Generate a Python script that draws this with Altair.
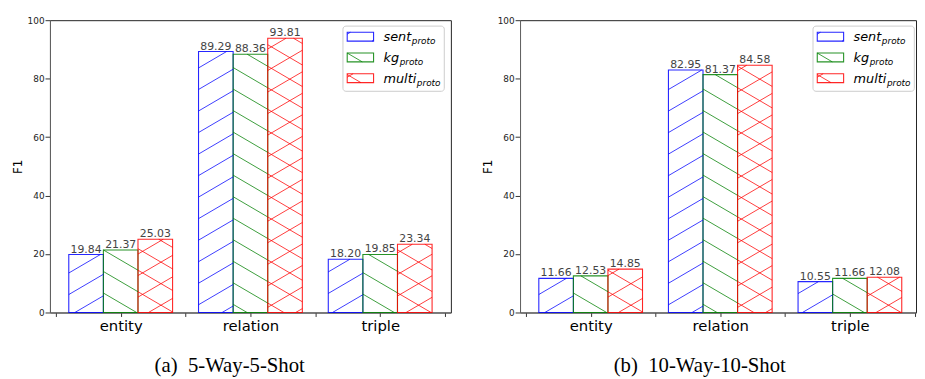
import math
import altair as alt
import pandas as pd

# ---------------- data ----------------
categories = ["entity", "relation", "triple"]
series = ["sent", "kg", "multi"]
series_sub = "proto"
colors = ["#0000ff", "#008000", "#ff0000"]
hatches = ["/", "\\", "x"]

a_sent = [19.84, 89.29, 18.20]
a_kg = [21.37, 88.36, 19.85]
a_multi = [25.03, 93.81, 23.34]

b_sent = [11.66, 82.95, 10.55]
b_kg = [12.53, 81.37, 11.66]
b_multi = [14.85, 84.58, 12.08]

caption_a = "(a)\u00a0\u00a05-Way-5-Shot"
caption_b = "(b)\u00a0\u00a010-Way-10-Shot"
y_title = "F1"
y_ticks = [0, 20, 40, 60, 80, 100]

# ---------------- layout / style ----------------
BAR_W = 0.8 / 3
PLOT_H = 296
HATCH_P_PX = 21.8      # vertical period of hatch lines, px
HATCH_SLOPE_PX = 0.585  # slope of hatch lines, px/px
PHASE_F = 1.8          # "/" phase (data units)
PHASE_B = 3.2          # "\" phase (data units)


def hatch_segments(x0, x1, y0, y1, m, P, phase, s):
    out = []
    if s > 0:
        cmin, cmax = y0 - m * x1, y1 - m * x0
    else:
        cmin, cmax = y0 + m * x0, y1 + m * x1
    k0 = math.ceil((cmin - phase) / P)
    k1 = math.floor((cmax - phase) / P)
    for k in range(k0, k1 + 1):
        c = phase + k * P
        if s > 0:
            xa = max(x0, (y0 - c) / m)
            xb = min(x1, (y1 - c) / m)
            if xb - xa > 1e-9:
                out.append((xa, c + m * xa, xb, c + m * xb))
        else:
            xa = max(x0, (c - y1) / m)
            xb = min(x1, (c - y0) / m)
            if xb - xa > 1e-9:
                out.append((xa, c - m * xa, xb, c - m * xb))
    return out


def dirs(h):
    return {"/": [1], "\\": [-1], "x": [1, -1]}[h]


# DejaVu Sans (oblique) advance widths, em
CW = {"s": 0.521, "e": 0.615, "n": 0.634, "t": 0.392, "k": 0.579, "g": 0.635,
      "m": 0.974, "u": 0.634, "l": 0.278, "i": 0.278}
LEG_FS = 13

color_scale = alt.Scale(domain=series, range=colors)


def panel(vals, width, xdom, caption):
    px_x = width / (xdom[1] - xdom[0])
    px_y = PLOT_H / 100.0
    P = HATCH_P_PX / px_y
    m = HATCH_SLOPE_PX * px_x / px_y

    rows, hrows = [], []
    for i, cat in enumerate(categories):
        for j, ser in enumerate(series):
            v = vals[j][i]
            xc = i + (j - 1) * BAR_W
            x0, x1 = xc - BAR_W / 2, xc + BAR_W / 2
            rows.append(dict(category=cat, series=ser, value=v, zero=0.0,
                             x0=x0, x1=x1, xc=xc))
            for s in dirs(hatches[j]):
                ph = PHASE_F if s > 0 else PHASE_B
                for (xa, ya, xb, yb) in hatch_segments(x0, x1, 0.0, v, m, P, ph, s):
                    hrows.append(dict(series=ser, hx0=xa, hy0=ya, hx1=xb, hy1=yb))
    bars = pd.DataFrame(rows)
    hdf = pd.DataFrame(hrows)

    xscale = alt.Scale(domain=xdom, nice=False, zero=False)
    yscale = alt.Scale(domain=[0, 100], nice=False)
    label_expr = " : ".join(
        [f"datum.value == {i} ? '{c}'" for i, c in enumerate(categories)]) + " : ''"
    xaxis = alt.Axis(values=[-0.5, 0, 0.5, 1, 1.5, 2, 2.5], labelExpr=label_expr,
                     title=None, grid=False, labelFontSize=15, tickSize=4,
                     labelPadding=2, labelFlush=False, labelOverlap=False,
                     labelColor="#000")
    yaxis = alt.Axis(values=y_ticks, title=y_title, grid=False, tickSize=5,
                     labelPadding=1, labelFontSize=9, titleFontSize=12,
                     titleFontWeight="normal", titlePadding=3, titleColor="#000")

    bar_layer = alt.Chart(bars).mark_rect(fill="white", fillOpacity=0,
                                          strokeWidth=1.1, strokeOpacity=0.85).encode(
        x=alt.X("x0:Q", scale=xscale, axis=xaxis),
        x2="x1:Q",
        y=alt.Y("value:Q", scale=yscale, axis=yaxis),
        y2="zero:Q",
        stroke=alt.Stroke("series:N", scale=color_scale, legend=None),
    )
    hatch_layer = alt.Chart(hdf).mark_rule(strokeWidth=0.9, opacity=0.85).encode(
        x=alt.X("hx0:Q", scale=xscale, axis=xaxis),
        x2="hx1:Q",
        y=alt.Y("hy0:Q", scale=yscale, axis=yaxis),
        y2="hy1:Q",
        color=alt.Color("series:N", scale=color_scale, legend=None),
    )
    text_layer = alt.Chart(bars).mark_text(fontSize=11, color="#444",
                                           baseline="alphabetic", dy=-2,
                                           font="DejaVu Sans").encode(
        x=alt.X("xc:Q", scale=xscale, axis=xaxis),
        y=alt.Y("value:Q", scale=yscale, axis=yaxis),
        text=alt.Text("value:Q", format=".2f"),
    )

    # ---- legend (pixel positions inside plot area) ----
    box = alt.Chart(pd.DataFrame({"a": [0]})).mark_rect(
        fill="white", fillOpacity=0.8, stroke="#cccccc", strokeWidth=1,
        cornerRadius=3).encode(
        x=alt.value(296.7), x2=alt.value(399.3), y=alt.value(6), y2=alt.value(72))
    lrows, lhrows = [], []
    for r, ser in enumerate(series):
        ly = 16.7 + 21 * r
        tw = sum(CW[ch] for ch in ser) * LEG_FS
        lrows.append(dict(series=ser, label=ser, sub=series_sub,
                          sy0=ly - 4.5, sy1=ly + 4.5, ty=ly + 4.6,
                          sx=337.7 + tw + 0.6, suby=ly + 7.5))
        for s in dirs(hatches[r]):
            ph = 6.0 if s > 0 else 12.0
            for (xa, ya, xb, yb) in hatch_segments(301, 327.7, -(ly + 4.5), -(ly - 4.5),
                                                   HATCH_SLOPE_PX, HATCH_P_PX, ph, s):
                lhrows.append(dict(series=ser, lx0=xa, ly0=-ya, lx1=xb, ly1=-yb))
    ldf = pd.DataFrame(lrows)
    lhdf = pd.DataFrame(lhrows)

    swatch = alt.Chart(ldf).mark_rect(fill="white", fillOpacity=0, strokeWidth=1.1,
                                      strokeOpacity=0.85).encode(
        x=alt.value(301), x2=alt.value(327.7),
        y=alt.Y("sy0:Q", scale=None, axis=None), y2="sy1:Q",
        stroke=alt.Stroke("series:N", scale=color_scale, legend=None),
    )
    swatch_hatch = alt.Chart(lhdf).mark_rule(strokeWidth=0.9, opacity=0.85).encode(
        x=alt.X("lx0:Q", scale=None, axis=None), x2="lx1:Q",
        y=alt.Y("ly0:Q", scale=None, axis=None), y2="ly1:Q",
        color=alt.Color("series:N", scale=color_scale, legend=None),
    )
    ltext = alt.Chart(ldf).mark_text(fontSize=LEG_FS, fontStyle="italic", align="left",
                                     baseline="alphabetic", font="DejaVu Sans",
                                     color="#000").encode(
        x=alt.value(337.7), y=alt.Y("ty:Q", scale=None, axis=None), text="label:N")
    lsub = alt.Chart(ldf).mark_text(fontSize=9, fontStyle="italic", align="left",
                                    baseline="alphabetic", font="DejaVu Sans",
                                    color="#000").encode(
        x=alt.X("sx:Q", scale=None, axis=None), y=alt.Y("suby:Q", scale=None, axis=None),
        text="sub:N")

    cap = alt.Chart(pd.DataFrame({"caption": [caption]})).mark_text(
        font="Liberation Serif", fontSize=21, color="#000", align="center",
        baseline="alphabetic").encode(
        x=alt.value(182), y=alt.value(356.3), text="caption:N")

    return alt.layer(bar_layer, hatch_layer, text_layer, box, swatch, swatch_hatch,
                     ltext, lsub, cap).properties(width=width, height=PLOT_H)


left = panel([a_sent, a_kg, a_multi], 406, [-0.545, 2.545], caption_a)
right = panel([b_sent, b_kg, b_multi], 401, [-0.545, 2.51], caption_b)

chart = alt.hconcat(left, right, spacing=29).properties(
    padding={"left": 2.5, "top": 5, "right": 0, "bottom": 0}
).configure_view(stroke="#222", strokeWidth=1).configure_axis(
    domainColor="#666", tickColor="#333", labelColor="#222",
    labelFont="DejaVu Sans", titleFont="DejaVu Sans")

chart.save("out.html", embed_options={"renderer": "svg", "actions": False})
